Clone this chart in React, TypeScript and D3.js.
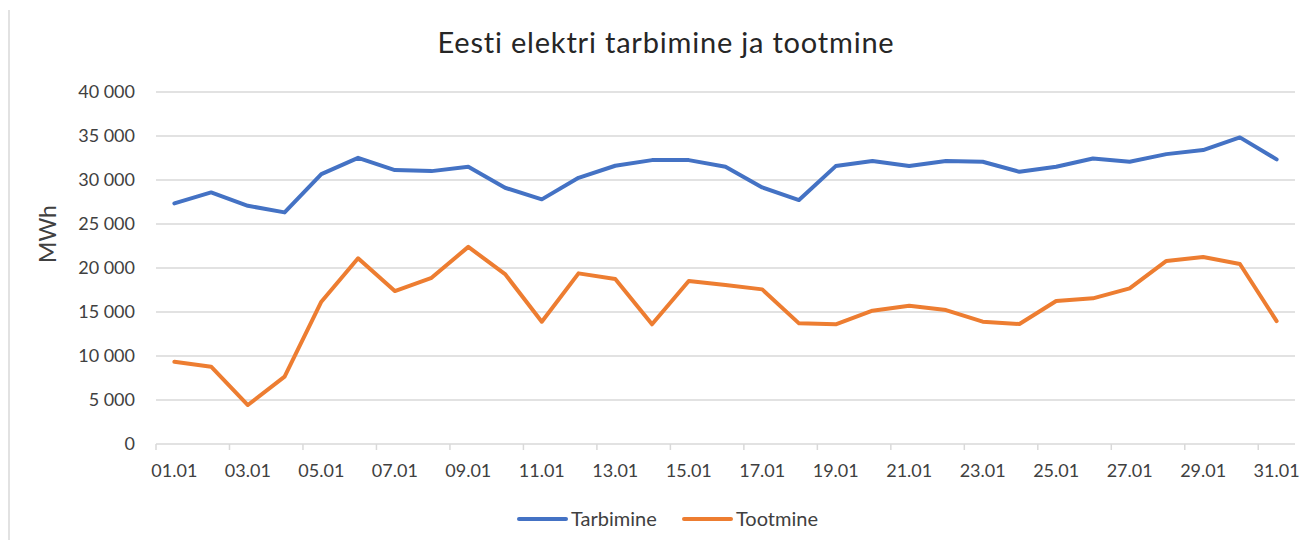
import * as d3 from 'd3';

const days = ['01.01', '02.01', '03.01', '04.01', '05.01', '06.01', '07.01', '08.01', '09.01', '10.01',
  '11.01', '12.01', '13.01', '14.01', '15.01', '16.01', '17.01', '18.01', '19.01', '20.01',
  '21.01', '22.01', '23.01', '24.01', '25.01', '26.01', '27.01', '28.01', '29.01', '30.01', '31.01'];

const tarbimine = [27340, 28590, 27070, 26320, 30670, 32520, 31130, 31010, 31500, 29120,
  27800, 30250, 31620, 32260, 32260, 31500, 29160, 27720, 31580, 32150,
  31580, 32150, 32070, 30930, 31500, 32450, 32070, 32940, 33400, 34840, 32340];

const tootmine = [9350, 8780, 4430, 7650, 16170, 21100, 17380, 18890, 22400, 19310,
  13900, 19390, 18740, 13600, 18520, 18060, 17570, 13710, 13600, 15150,
  15720, 15220, 13900, 13630, 16250, 16550, 17690, 20800, 21250, 20450, 13970];

const yTicks = [0, 5000, 10000, 15000, 20000, 25000, 30000, 35000, 40000];

const W = 1309;
const H = 540;
const FONT = 'Lato, "Open Sans", sans-serif';

export default function App() {
  const left = 156, right = 1295, top = 92, bottom = 444;

  const x = d3.scaleBand<string>().domain(days).range([left, right]);
  const y = d3.scaleLinear().domain([0, 40000]).range([bottom, top]);
  const cx = (d: string) => (x(d) ?? 0) + x.bandwidth() / 2;

  const line = d3.line<number>()
    .x((_, i) => cx(days[i]))
    .y(v => y(v));

  const fmt = (v: number) => d3.format(',')(v).replace(/,/g, ' ');

  // tick marks sit on every second category boundary
  const tickDays = days.filter((_, i) => i % 2 === 0);

  return (
    <div style={{ position: 'absolute', left: 0, top: 0 }}>
      <svg width={W} height={H} style={{ display: 'block', background: '#fff' }} fontFamily={FONT}>
        <line x1={9} x2={9} y1={10} y2={H} stroke="#d9d9d9" strokeWidth={1.5} />

        <text x={666} y={53} textAnchor="middle" fontSize={29} letterSpacing={0.8} fill="#262626">
          Eesti elektri tarbimine ja tootmine
        </text>

        {yTicks.map(t => (
          <g key={t}>
            <line x1={left} x2={right} y1={y(t)} y2={y(t)} stroke="#d9d9d9" strokeWidth={1.5} />
            <text x={135} y={y(t)} dy="0.36em" textAnchor="end" fontSize={18} fill="#404040">
              {fmt(t)}
            </text>
          </g>
        ))}

        {tickDays.map(d => (
          <line key={d} x1={x(d)} x2={x(d)} y1={bottom} y2={bottom + 6} stroke="#d9d9d9" strokeWidth={1.5} />
        ))}
        {tickDays.map(d => (
          <text key={d} x={cx(d)} y={471} dy="0.36em" textAnchor="middle" fontSize={18} fill="#404040">
            {d}
          </text>
        ))}

        <text transform="translate(48,234) rotate(-90)" textAnchor="middle"
          dy="0.36em" fontSize={23} fill="#404040">MWh</text>

        <path d={line(tarbimine) ?? ''} fill="none" stroke="#4472C4" strokeWidth={4} strokeLinejoin="round" strokeLinecap="round" />
        <path d={line(tootmine) ?? ''} fill="none" stroke="#ED7D31" strokeWidth={4} strokeLinejoin="round" strokeLinecap="round" />

        <g fontSize={20} fill="#404040">
          <line x1={519} x2={566} y1={519} y2={519} stroke="#4472C4" strokeWidth={4} strokeLinecap="round" />
          <text x={571} y={519} dy="0.36em">Tarbimine</text>
          <line x1={684} x2={731} y1={519} y2={519} stroke="#ED7D31" strokeWidth={4} strokeLinecap="round" />
          <text x={736} y={519} dy="0.36em">Tootmine</text>
        </g>
      </svg>
    </div>
  );
}
